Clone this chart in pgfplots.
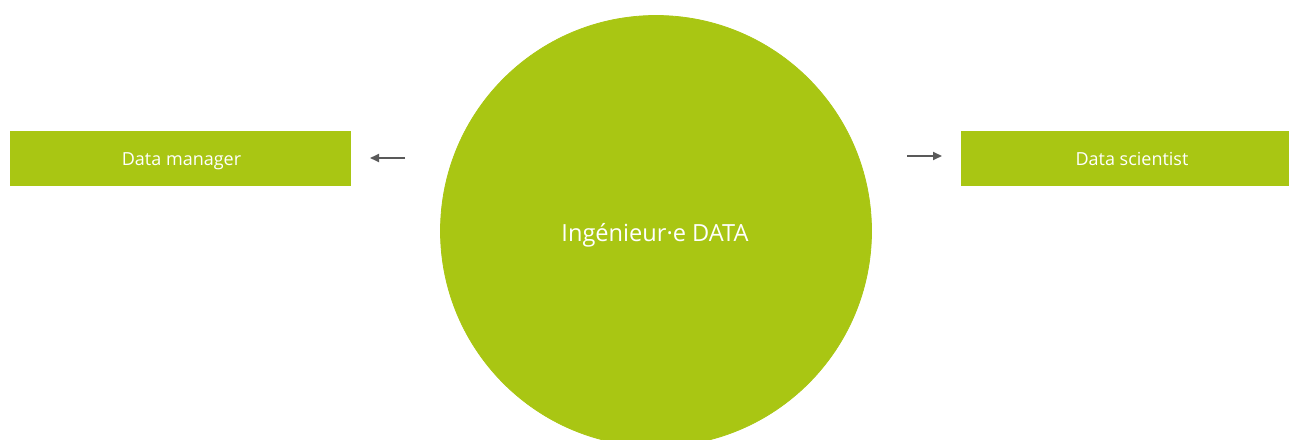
\documentclass[border=0pt]{standalone}
\usepackage{pgfplots}
\pgfplotsset{compat=1.18}
\usepackage{fontspec}
\setmainfont{Open Sans}
\usetikzlibrary{arrows.meta}
\definecolor{lime}{HTML}{A9C613}
\definecolor{arr}{HTML}{595959}
\begin{document}
\begin{tikzpicture}
\begin{axis}[
  at={(0,0)}, anchor=south west,
  scale only axis, width=644.5pt, height=219.5pt,
  xmin=0, xmax=1289, ymin=0, ymax=439, y dir=reverse,
  axis lines=none, clip=true, clip marker paths=true,
]
% circle
\addplot[only marks, mark=*, mark size=107.75pt, draw=lime, fill=lime, mark options={draw=lime, fill=lime}] coordinates {(656,231)};
% boxes
\addplot[fill=lime, draw=none] coordinates {(10,131) (351,131) (351,186) (10,186)} -- cycle;
\addplot[fill=lime, draw=none] coordinates {(961,131) (1289,131) (1289,186) (961,186)} -- cycle;
% arrows
\addplot[arr, line width=0.9pt, -{Triangle[length=4.5pt,width=4pt]}] coordinates {(405,158) (370,158)};
\addplot[arr, line width=0.9pt, -{Triangle[length=4.5pt,width=4pt]}] coordinates {(907,156) (942,156)};
% labels
\node[white, anchor=base, inner sep=0pt, font=\fontsize{9}{10}\selectfont] at (axis cs:181.5,165.7) {Data manager};
\node[white, anchor=base, inner sep=0pt, font=\fontsize{9}{10}\selectfont] at (axis cs:1132,165.7) {Data scientist};
\node[white, anchor=base, inner sep=0pt, font=\fontsize{11.8}{14}\selectfont] at (axis cs:655,241.7) {Ingénieur·e DATA};
\end{axis}
\pgfresetboundingbox
\useasboundingbox (0,0) rectangle (644.5pt,219.5pt);
\end{tikzpicture}
\end{document}
